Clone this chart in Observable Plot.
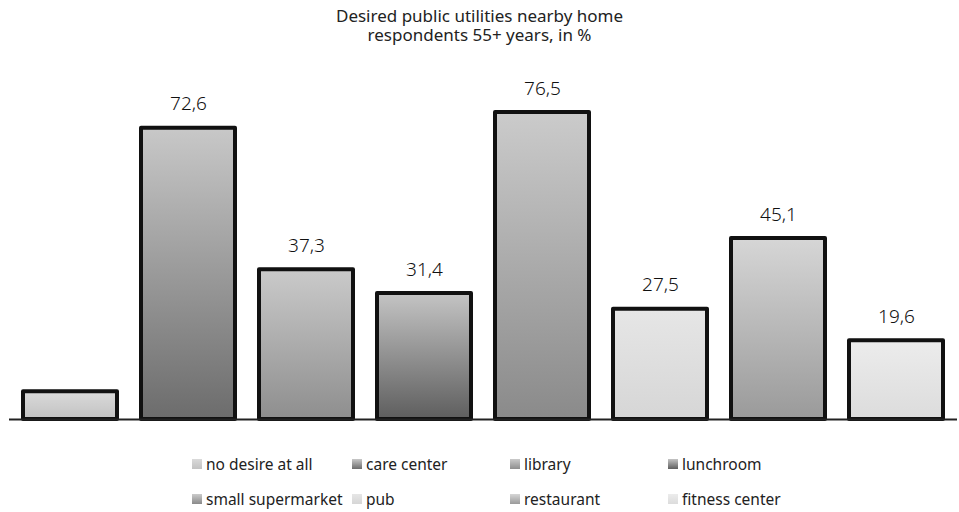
<!DOCTYPE html>
<html>
<head>
<meta charset="utf-8">
<script src="https://cdn.jsdelivr.net/npm/d3@7"></script>
<script src="https://cdn.jsdelivr.net/npm/@observablehq/plot@0.6"></script>
<style>
  body { margin: 0; background: #fff; font-family: "Noto Sans", "Open Sans", sans-serif; color: #222; }
  #title { width: 959px; text-align: center; font-size: 17px; line-height: 19px; padding-top: 6px; height: 40px; }
  #legend { position: relative; width: 959px; height: 80px; font-size: 15.5px; }
  .item { position: absolute; display: flex; align-items: center; white-space: nowrap; }
  .sw { width: 10px; height: 10px; margin-right: 4px; }
</style>
</head>
<body>
<div id="title"><div>Desired public utilities nearby home</div><div>respondents 55+ years, in %</div></div>
<div id="chart"></div>
<div id="legend"></div>
<script>
const categories = ["no desire at all", "care center", "library", "lunchroom", "small supermarket", "pub", "restaurant", "fitness center"];
const values = [6.9, 72.6, 37.3, 31.4, 76.5, 27.5, 45.1, 19.6];
const showLabel = [false, true, true, true, true, true, true, true];

const gradTop = ["#dadada", "#c8c8c8", "#cacaca", "#c4c4c4", "#cbcbcb", "#e6e6e6", "#d6d6d6", "#ececec"];
const gradBottom = ["#c2c2c2", "#6c6c6c", "#8e8e8e", "#5e5e5e", "#8a8a8a", "#d6d6d6", "#9a9a9a", "#dcdcdc"];

const data = categories.map((c, i) => ({category: c, value: values[i], label: showLabel[i] ? values[i].toFixed(1).replace(".", ",") : ""}));

const W = 959, H = 386;
const svg = Plot.plot({
  width: W,
  height: H,
  marginLeft: 9,
  marginRight: 2,
  marginTop: 52,
  marginBottom: 13,
  style: {fontFamily: "'Noto Sans', sans-serif", background: "#fff"},
  x: {domain: categories, paddingInner: 0.2, paddingOuter: 0.1, axis: null},
  y: {domain: [0, 80], axis: null},
  color: {type: "ordinal", domain: categories, range: categories.map((c, i) => `url(#g${i})`)},
  marks: [
    Plot.barY(data, {x: "category", y: "value", fill: "category", stroke: "#111", strokeWidth: 4, strokeLinejoin: "round"}),
    Plot.ruleY([0], {stroke: "#222", strokeWidth: 2}),
    Plot.text(data, {x: "category", y: "value", text: "label", dy: -24, fontSize: 19, fontWeight: 300, fill: "#111"})
  ]
});

const defs = d3.select(svg).insert("defs", ":first-child");
categories.forEach((c, i) => {
  const g = defs.append("linearGradient").attr("id", `g${i}`).attr("x1", 0).attr("y1", 0).attr("x2", 0).attr("y2", 1);
  g.append("stop").attr("offset", "0%").attr("stop-color", gradTop[i]);
  g.append("stop").attr("offset", "100%").attr("stop-color", gradBottom[i]);
});
document.getElementById("chart").appendChild(svg);

const legend = document.getElementById("legend");
const colX = [192, 352, 510, 668];
categories.forEach((c, i) => {
  const row = Math.floor(i / 4), col = i % 4;
  const item = document.createElement("div");
  item.className = "item";
  item.style.left = colX[col] + "px";
  item.style.top = (21 + row * 35) + "px";
  const sw = document.createElement("div");
  sw.className = "sw";
  sw.style.background = `linear-gradient(${gradTop[i]}, ${gradBottom[i]})`;
  item.appendChild(sw);
  const t = document.createElement("span");
  t.textContent = c;
  item.appendChild(t);
  legend.appendChild(item);
});
</script>
</body>
</html>
